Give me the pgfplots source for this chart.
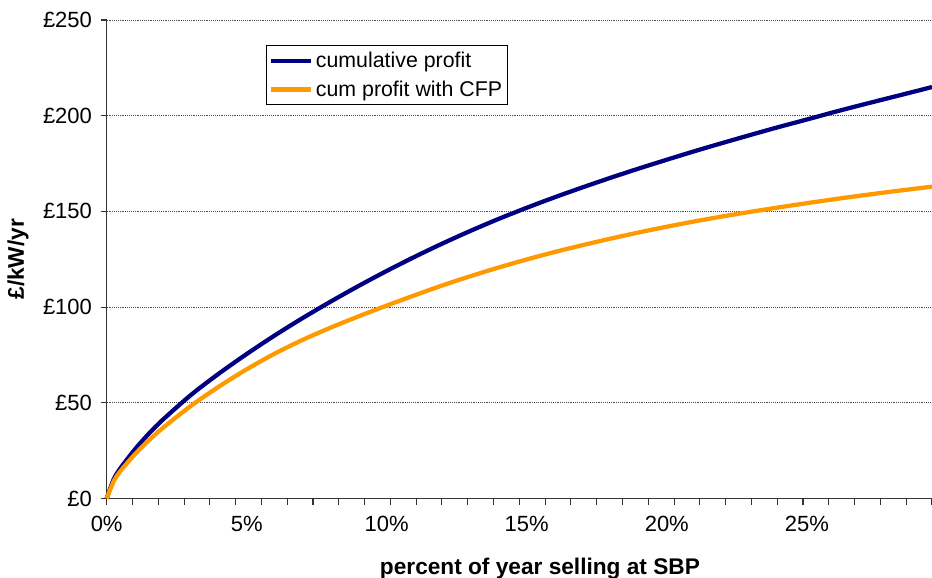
\documentclass[border=0pt]{standalone}
\usepackage{pgfplots}
\pgfplotsset{compat=1.18}
\usepackage{fontspec}
\setmainfont{Liberation Sans}
\definecolor{navyline}{HTML}{000080}
\definecolor{xlorange}{HTML}{FF9900}
\begin{document}
\begin{tikzpicture}
\begin{axis}[
  scale only axis, width=619pt, height=358.9pt,
  xmin=0, xmax=29.47, ymin=0, ymax=250,
  axis lines*=left,
  axis line style={draw=black!80, line width=0.9pt},
  tick align=outside,
  ytick={0,50,100,150,200,250},
  yticklabels={£0,£50,£100,£150,£200,£250},
  xtick={0,5,10,15,20,25},
  xticklabels={0\%,5\%,10\%,15\%,20\%,25\%},
  minor xtick={0,0.9209,...,29.5},
  major x tick style={draw=none},
  minor x tick style={draw=black!80, line width=0.8pt},
  major y tick style={draw=black!80, line width=0.8pt},
  major tick length=4.5pt, minor tick length=4.5pt,
  ymajorgrids,
  grid style={densely dotted, black!70, line width=0.6pt},
  ticklabel style={font=\fontsize{16.5}{18}\selectfont},
  xticklabel style={yshift=-5pt},
  yticklabel style={xshift=-3pt},
  xlabel={\textbf{percent of year selling at SBP}},
  ylabel={\textbf{£/kW/yr}},
  label style={font=\fontsize{17}{19}\selectfont},
  xlabel style={at={(axis description cs:0.525,0)}, anchor=north, yshift=-41pt},
  ylabel style={at={(axis description cs:0,0.5)}, anchor=south, yshift=55pt},
  legend style={at={(axis description cs:0.193,0.948)}, anchor=north west,
    draw=black, line width=0.6pt, font=\fontsize{16}{18}\selectfont,
    inner xsep=2pt, inner ysep=3pt, row sep=4.5pt, legend cell align=left},
  legend image code/.code={\draw[#1] (0pt,0pt) -- (30pt,0pt);},
  clip=false,
]
\addplot[navyline, line width=3.2pt, smooth] coordinates {
(0,0) (0.25,10) (0.5,16) (1,25.5) (1.5,33.8) (2,41.1) (3,54.0) (4,65.2)
(5,75.5) (6,85.2) (7,94.3) (8,102.9) (9,111.1) (10,118.9) (11,126.3) (12,133.3)
(13,139.9) (14,146.1) (15,151.9) (16,157.4) (17,162.6) (18,167.6) (19,172.4)
(20,177.0) (21,181.5) (22,185.8) (23,190.0) (24,194.1) (25,198.0) (26,202.0)
(27,205.8) (28,209.5) (29,213.2) (29.47,215.0)};
\addlegendentry{cumulative profit}
\addplot[xlorange, line width=3.2pt, smooth] coordinates {
(0,0) (0.25,9) (0.5,14.5) (1,23) (1.5,30.3) (2,36.8) (3,48.3) (4,58.4)
(5,67.5) (6,75.7) (7,82.9) (8,89.3) (9,95.2) (10,100.8) (11,106.2) (12,111.4)
(13,116.2) (14,120.7) (15,124.9) (16,128.8) (17,132.4) (18,135.8) (19,139.0)
(20,142.0) (21,144.8) (22,147.4) (23,149.8) (24,152.1) (25,154.3) (26,156.4)
(27,158.4) (28,160.3) (29,162.1) (29.47,162.9)};
\addlegendentry{cum profit with CFP}
\end{axis}
\pgfresetboundingbox
\path (current axis.south west) ++(-80pt,-59.6pt) coordinate (bl);
\path (current axis.north east) ++(0pt,15pt) coordinate (tr);
\useasboundingbox (bl) rectangle (tr);
\end{tikzpicture}
\end{document}
